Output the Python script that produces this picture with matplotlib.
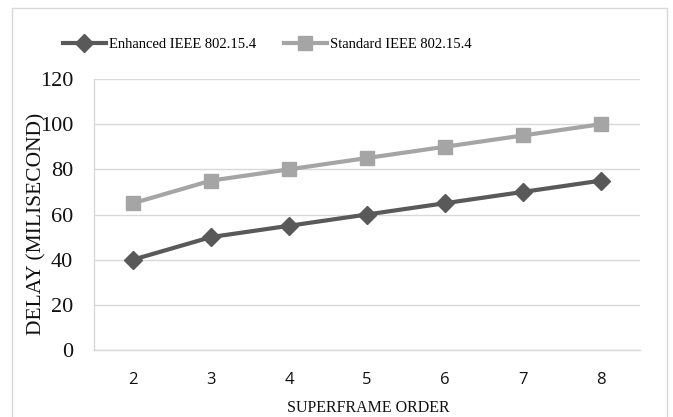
import matplotlib.pyplot as plt
from matplotlib.patches import Rectangle

# data
superframe_order = [2, 3, 4, 5, 6, 7, 8]
enhanced_delay = [40, 50, 55, 60, 65, 70, 75]
standard_delay = [65, 75, 80, 85, 90, 95, 100]
y_ticks = [0, 20, 40, 60, 80, 100, 120]

dark = '#595959'
light = '#A5A5A5'
grid = '#D9D9D9'

fig = plt.figure(figsize=(6.73, 4.17), dpi=100)
fig.patches.append(Rectangle((12 / 673, -0.05), 655 / 673, 1 - 8 / 417 + 0.05,
                             transform=fig.transFigure, fill=False,
                             edgecolor=grid, linewidth=1))

ax = fig.add_axes([94 / 673, 1 - 350 / 417, 546 / 673, 271 / 417])
ax.plot(superframe_order, enhanced_delay, color=dark, linewidth=3,
        marker='D', markersize=9, label='Enhanced IEEE 802.15.4', zorder=3)
ax.plot(superframe_order, standard_delay, color=light, linewidth=3,
        marker='s', markersize=10, label='Standard IEEE 802.15.4', zorder=3)

ax.set_xlim(1.5, 8.5)
ax.set_ylim(0, 120)
ax.set_xticks(superframe_order)
ax.set_yticks(y_ticks)
ax.grid(axis='y', color=grid, linewidth=1)
ax.set_axisbelow(True)
for s in ['top', 'right']:
    ax.spines[s].set_visible(False)
for s in ['left', 'bottom']:
    ax.spines[s].set_color(grid)
    ax.spines[s].set_linewidth(1)

ax.tick_params(axis='both', length=0)
ax.tick_params(axis='y', pad=15)
ax.tick_params(axis='x', pad=16)
for t in ax.get_yticklabels():
    t.set_fontfamily('Liberation Serif')
    t.set_fontsize(16)
    t.set_color('#111111')
for t in ax.get_xticklabels():
    t.set_fontfamily('Open Sans')
    t.set_fontsize(12)
    t.set_color('#111111')

fig.text(37 / 673, 1 - 224 / 417, 'DELAY (MILISECOND)', rotation=90,
         ha='center', va='center', fontsize=15.5, family='Liberation Serif',
         color='#111111')
fig.text(368 / 673, 1 - 408 / 417, 'SUPERFRAME ORDER', ha='center',
         va='center', fontsize=11.5, family='Liberation Serif', color='#111111')

fig.legend(loc='center', bbox_to_anchor=(267 / 673, 1 - 44 / 417), ncol=2,
           frameon=False, prop={'family': 'Liberation Serif', 'size': 10.5},
           handlelength=2.95, handletextpad=0.2, columnspacing=1.9)

fig.savefig('out.png', dpi=100)
